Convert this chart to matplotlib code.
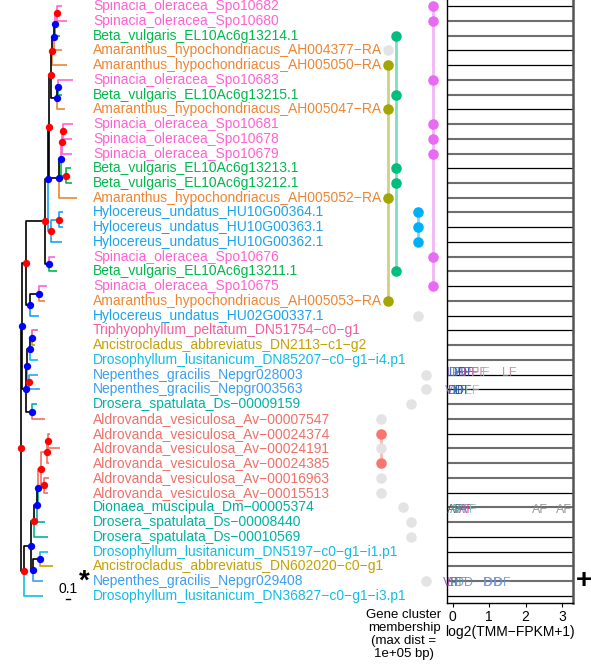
import matplotlib
matplotlib.use("Agg")
import matplotlib.pyplot as plt

plt.rcParams['font.family'] = ['Liberation Sans', 'DejaVu Sans']

# gene tree: node -> (child, branch length, child, branch length, support)
clades = {
    'A':  ('Spinacia_oleracea_Spo10682', 0.118, 'Spinacia_oleracea_Spo10680', 0.229, 'r'),
    'B':  ('A', 0.044, 'Beta_vulgaris_EL10Ac6g13214.1', 0.118, 'b'),
    'C':  ('B', 0.022, 'Amaranthus_hypochondriacus_AH004377-RA', 0.184, 'b'),
    'D':  ('C', 0.031, 'Amaranthus_hypochondriacus_AH005050-RA', 0.327, 'r'),
    'F':  ('Spinacia_oleracea_Spo10683', 0.34, 'Beta_vulgaris_EL10Ac6g13215.1', 0.096, 'b'),
    'G':  ('F', 0.009, 'Amaranthus_hypochondriacus_AH005047-RA', 0.171, 'b'),
    'H':  ('D', 0.036, 'G', 0.147, 'r'),
    'I':  ('Spinacia_oleracea_Spo10681', 0.229, 'Spinacia_oleracea_Spo10678', 0.207, 'r'),
    'J':  ('I', 0.022, 'Spinacia_oleracea_Spo10679', 0.229, 'r'),
    'K':  ('Beta_vulgaris_EL10Ac6g13213.1', 0.104, 'Beta_vulgaris_EL10Ac6g13212.1', 0.127, 'r'),
    'L':  ('J', 0.022, 'K', 0.124, 'b'),
    'M':  ('L', 0.031, 'Amaranthus_hypochondriacus_AH005052-RA', 0.393, 'b'),
    'O':  ('H', 0.038, 'M', 0.229, 'r'),
    'P':  ('Hylocereus_undatus_HU10G00364.1', 0.089, 'Hylocereus_undatus_HU10G00363.1', 0.089, 'r'),
    'Q':  ('P', 0.184, 'Hylocereus_undatus_HU10G00362.1', 0.251, 'r'),
    'R':  ('O', 0.029, 'Q', 0.067, 'b'),
    'S':  ('Spinacia_oleracea_Spo10676', 0.14, 'Beta_vulgaris_EL10Ac6g13211.1', 0.184, 'b'),
    'T':  ('R', 0.06, 'S', 0.082, 'r'),
    'U':  ('Spinacia_oleracea_Spo10675', 0.184, 'Amaranthus_hypochondriacus_AH005053-RA', 0.14, 'b'),
    'V':  ('U', 0.2, 'Hylocereus_undatus_HU02G00337.1', 0.213, 'b'),
    'W':  ('T', 0.422, 'V', 0.082, 'r'),
    'Y':  ('Triphyophyllum_peltatum_DN51754-c0-g1', 0.127, 'Ancistrocladus_abbreviatus_DN2113-c1-g2', 0.067, 'b'),
    'Z':  ('Y', 0.051, 'Drosophyllum_lusitanicum_DN85207-c0-g1-i4.p1', 0.184, 'b'),
    'AA': ('Nepenthes_gracilis_Nepgr028003', 0.193, 'Nepenthes_gracilis_Nepgr003563', 0.238, 'r'),
    'AB': ('Z', 0.06, 'AA', 0.051, 'b'),
    'AC': ('Drosera_spatulata_Ds-00009159', 0.104, 'Aldrovanda_vesiculosa_Av-00007547', 0.289, 'b'),
    'AD': ('AB', 0.029, 'AC', 0.14, 'b'),
    'AE': ('W', 0.096, 'AD', 0.089, 'b'),
    'AF': ('Aldrovanda_vesiculosa_Av-00024374', 0.038, 'Aldrovanda_vesiculosa_Av-00024191', 0.26, 'r'),
    'AH': ('AF', 0.022, 'Aldrovanda_vesiculosa_Av-00024385', 0.038, 'r'),
    'AG': ('Aldrovanda_vesiculosa_Av-00016963', 0.118, 'Aldrovanda_vesiculosa_Av-00015513', 0.096, 'r'),
    'AI': ('AH', 0.147, 'AG', 0.067, 'r'),
    'AJ': ('AI', 0.067, 'Dionaea_muscipula_Dm-00005374', 0.051, 'b'),
    'AK': ('AJ', 0.016, 'Drosera_spatulata_Ds-00008440', 0.178, 'b'),
    'AL': ('AK', 0.073, 'Drosera_spatulata_Ds-00010569', 0.311, 'r'),
    'AN': ('Drosophyllum_lusitanicum_DN5197-c0-g1-i1.p1', 0.178, 'Ancistrocladus_abbreviatus_DN602020-c0-g1', 0.289, 'b'),
    'AO': ('AN', 0.142, 'Nepenthes_gracilis_Nepgr029408', 0.209, 'b'),
    'AP': ('AL', 0.067, 'AO', 0.058, 'b'),
    'AQ': ('AP', 0.142, 'Drosophyllum_lusitanicum_DN36827-c0-g1-i3.p1', 0.409, 'r'),
    'root': ('AE', 0.022, 'AQ', 0.08, 'r'),
}

species_colors = {
    'Spinacia_oleracea': '#FF62D2',
    'Beta_vulgaris': '#00B84C',
    'Amaranthus_hypochondriacus': '#EE8533',
    'Hylocereus_undatus': '#1AA3EC',
    'Triphyophyllum_peltatum': '#F0609E',
    'Ancistrocladus_abbreviatus': '#C5A100',
    'Drosophyllum_lusitanicum': '#12BDE6',
    'Nepenthes_gracilis': '#3C9EEE',
    'Drosera_spatulata': '#00B2A5',
    'Aldrovanda_vesiculosa': '#F0706A',
    'Dionaea_muscipula': '#00AF9C',
}
support_colors = {'r': '#FF0000', 'b': '#0000FF'}

# gene cluster membership (species column, cluster or '' if not in a cluster)
cluster_cols = ['Aldrovanda_vesiculosa', 'Amaranthus_hypochondriacus', 'Beta_vulgaris',
                'Dionaea_muscipula', 'Drosera_spatulata', 'Hylocereus_undatus',
                'Nepenthes_gracilis', 'Spinacia_oleracea']
cluster_colors = {'Aldrovanda_vesiculosa': '#F8766D', 'Amaranthus_hypochondriacus': '#A3A500',
                  'Beta_vulgaris': '#00BF7D', 'Hylocereus_undatus': '#00B0F6',
                  'Spinacia_oleracea': '#E76BF3'}
clustered = ['Spinacia_oleracea_Spo10682', 'Spinacia_oleracea_Spo10680', 'Spinacia_oleracea_Spo10683',
             'Spinacia_oleracea_Spo10681', 'Spinacia_oleracea_Spo10678', 'Spinacia_oleracea_Spo10679',
             'Spinacia_oleracea_Spo10676', 'Spinacia_oleracea_Spo10675',
             'Beta_vulgaris_EL10Ac6g13214.1', 'Beta_vulgaris_EL10Ac6g13215.1', 'Beta_vulgaris_EL10Ac6g13213.1',
             'Beta_vulgaris_EL10Ac6g13212.1', 'Beta_vulgaris_EL10Ac6g13211.1',
             'Amaranthus_hypochondriacus_AH005050-RA', 'Amaranthus_hypochondriacus_AH005047-RA',
             'Amaranthus_hypochondriacus_AH005052-RA', 'Amaranthus_hypochondriacus_AH005053-RA',
             'Hylocereus_undatus_HU10G00364.1', 'Hylocereus_undatus_HU10G00363.1',
             'Hylocereus_undatus_HU10G00362.1',
             'Aldrovanda_vesiculosa_Av-00024374', 'Aldrovanda_vesiculosa_Av-00024385']

# expression labels (tip, log2 value, tissue, colour)
expr_tip = ['Nepenthes_gracilis_Nepgr028003'] * 9 + ['Nepenthes_gracilis_Nepgr003563'] * 5 + \
           ['Dionaea_muscipula_Dm-00005374'] * 7 + ['Nepenthes_gracilis_Nepgr029408'] * 7
expr_val = [0.05, 0.12, 0.2, 0.3, 0.38, 0.5, 0.72, 0.9, 1.55,
            0.0, 0.1, 0.2, 0.3, 0.55,
            0.05, 0.15, 0.3, 0.4, 0.55, 2.4, 3.05,
            -0.05, 0.05, 0.15, 0.3, 0.95, 1.1, 1.35]
expr_lab = ['LF', 'DF', 'PF', 'AF', 'DF', 'PF', 'PF', 'F', 'LF',
            'VF', 'DF', 'LF', 'DF', 'LF',
            'AF', 'AF', 'AF', 'AF', 'F', 'AF', 'AF',
            'VF', 'LF', 'PF', 'DD', 'D', 'DD', 'DF']
expr_col = ['#7B5EA8', '#2A5DB0', '#3A8FC0', '#8060B0', '#1E4FA0', '#A05AA0', '#C07AA0', '#7FC7B0', '#C080A0',
            '#9070C0', '#2050A0', '#3070B0', '#1E4FA0', '#80C8B8',
            '#444444', '#40B0A0', '#7080C0', '#D04080', '#80CCC0', '#888888', '#888888',
            '#8040A0', '#A050A0', '#40A080', '#6080D0', '#7090D8', '#7090D8', '#7090D8']
expr_dy = {'Nepenthes_gracilis_Nepgr028003': -0.15, 'Nepenthes_gracilis_Nepgr003563': 0.1,
           'Dionaea_muscipula_Dm-00005374': 0.15, 'Nepenthes_gracilis_Nepgr029408': 0.1}
gray_rows = [2, 3, 6, 7, 9, 10, 11, 13, 14, 15, 18, 19, 21, 24, 25, 28, 29, 31, 32, 33, 35, 36, 39, 40]


def species(name):
    return '_'.join(name.split('_')[:2])


# layout of the tree
xs, ys, tips, group = {}, {}, [], {}


def layout(node, x):
    xs[node] = x
    if node not in clades:
        tips.append(node)
        ys[node] = len(tips)
        return {species(node)}
    c1, l1, c2, l2, _ = clades[node]
    s = layout(c1, x + l1) | layout(c2, x + l2)
    ys[node] = (ys[c1] + ys[c2]) / 2
    group[node] = s
    return s


layout('root', 0.0)


def branch_color(node):
    if node not in clades:
        return species_colors[species(node)]
    g = group[node]
    return species_colors[list(g)[0]] if len(g) == 1 else 'black'


W_PX, H_PX = 591, 667
fig = plt.figure(figsize=(W_PX / 100, H_PX / 100), dpi=100)


def rect(x0, x1, y0, y1):
    return [x0 / W_PX, 1 - y1 / H_PX, (x1 - x0) / W_PX, (y1 - y0) / H_PX]


ylim = (41.475, 0.593)

# tree
ax = fig.add_axes(rect(0, 93, 0, 603))
ax.set_xlim(-0.46, 1.607)
ax.set_ylim(*ylim)
ax.axis('off')
for node, (c1, l1, c2, l2, sup) in clades.items():
    for c in (c1, c2):
        col = branch_color(c)
        ax.plot([xs[node], xs[node], xs[c]], [ys[node], ys[c], ys[c]], color=col, lw=1.2,
                solid_capstyle='butt', zorder=2)
for node, (c1, l1, c2, l2, sup) in clades.items():
    ax.plot(xs[node], ys[node], 'o', color=support_colors[sup], ms=5.3, mec='none', zorder=3)
for t in tips:
    ax.text(1.607, ys[t], t.replace('-', '\u2212'), color=species_colors[species(t)],
            fontsize=10, va='center', ha='left', clip_on=False)
# scale bar
ax.plot([1.0, 1.1], [41.2, 41.2], color='black', lw=1)
ax.text(1.05, 40.55, '0.1', fontsize=10, ha='center', va='center')
ax.text(1.42, ys['Nepenthes_gracilis_Nepgr029408'], '*', fontsize=20, fontweight='bold',
        ha='center', va='center')

# gene cluster membership
axc = fig.add_axes(rect(370, 444, 0, 603))
axc.set_xlim(-1.48, 8.48)
axc.set_ylim(*ylim)
axc.axis('off')
for i, sp in enumerate(cluster_cols):
    members = [t for t in tips if species(t) == sp]
    inc = [ys[t] for t in members if t in clustered]
    if len(inc) > 1:
        axc.plot([i, i], [min(inc), max(inc)], color=cluster_colors[sp], alpha=0.5, lw=2, zorder=1)
    for t in members:
        col = cluster_colors[sp] if t in clustered else '#E3E3E3'
        axc.plot(i, ys[t], 'o', color=col, ms=7.6, mec='none', zorder=2)

# expression panel
axe = fig.add_axes(rect(447, 573, 0, 603))
axe.set_xlim(-0.156, 3.302)
axe.set_ylim(*ylim)
for t in tips:
    if ys[t] in gray_rows:
        axe.axhline(ys[t], color='#6E6E6E', lw=1.5, zorder=1)
    else:
        axe.axhline(ys[t], color='black', lw=0.9, zorder=1)
for t, v, lab, c in zip(expr_tip, expr_val, expr_lab, expr_col):
    axe.text(v, ys[t] + expr_dy[t], lab, color=c, fontsize=9, ha='center', va='center',
             alpha=0.85, clip_on=False)
axe.set_yticks([])
axe.set_xticks([0, 1, 2, 3])
axe.tick_params(axis='x', length=3, labelsize=10, pad=2)
axe.spines['top'].set_visible(False)
axe.spines['right'].set_color('#555555')
axe.spines['right'].set_linewidth(1.8)
axe.spines['left'].set_linewidth(1.0)
axe.spines['bottom'].set_linewidth(1.0)
axe.set_xlabel('log2(TMM\u2212FPKM+1)', fontsize=10, labelpad=1)
axe.text(1.09, ys['Nepenthes_gracilis_Nepgr029408'], '+', transform=axe.get_yaxis_transform(),
         fontsize=20, fontweight='bold', ha='center', va='center')

fig.text(404 / W_PX, 1 - 634.5 / H_PX, 'Gene cluster\nmembership\n(max dist =\n1e+05 bp)',
         fontsize=9.5, ha='center', va='center', linespacing=1.12)

fig.savefig('out.png', dpi=100)
